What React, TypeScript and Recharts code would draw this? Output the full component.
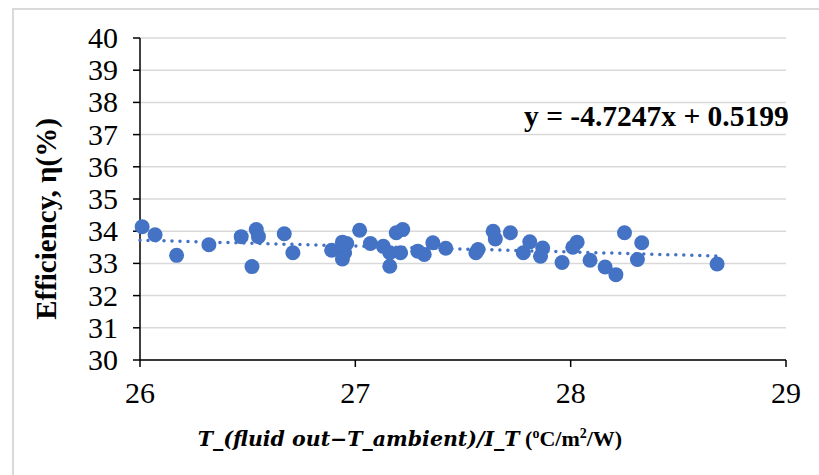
import { ScatterChart, Scatter, XAxis, YAxis, CartesianGrid, Label } from 'recharts';

// measured points: x = T_(fluid out - T_ambient)/I_T, y = efficiency (%)
const xVals = [
  26.01, 26.07, 26.17, 26.32, 26.47, 26.54, 26.55, 26.52, 26.67, 26.71,
  26.89, 26.94, 26.95, 26.94, 26.96, 27.02, 27.07, 27.13, 27.16, 27.16,
  27.19, 27.22, 27.21, 27.29, 27.32, 27.36, 27.42, 27.56, 27.57, 27.64,
  27.65, 27.72, 27.78, 27.81, 27.87, 27.86, 27.96, 28.01, 28.03, 28.09,
  28.16, 28.21, 28.25, 28.31, 28.33, 28.68,
];
const yVals = [
  34.14, 33.89, 33.25, 33.58, 33.83, 34.05, 33.83, 32.9, 33.92, 33.33,
  33.41, 33.66, 33.33, 33.14, 33.62, 34.03, 33.62, 33.53, 33.33, 32.91,
  33.95, 34.05, 33.33, 33.38, 33.28, 33.64, 33.47, 33.33, 33.43, 34.0,
  33.76, 33.95, 33.33, 33.67, 33.48, 33.22, 33.03, 33.5, 33.66, 33.1,
  32.89, 32.65, 33.95, 33.12, 33.64, 32.98,
];
// dotted trend line ends
const trendX = [26.0, 28.68];
const trendY = [33.72, 33.23];

const xTicks = [26, 27, 28, 29];
const yTicks = [30, 31, 32, 33, 34, 35, 36, 37, 38, 39, 40];

const points = xVals.map((x, i) => ({ x, y: yVals[i] }));
const trend = trendX.map((x, i) => ({ x, y: trendY[i] }));

const blue = '#4472C4';
const font = 'Liberation Serif';

const XTick = (p: any) => (
  <text x={p.x} y={p.y} dy={21} textAnchor="middle" fontFamily={font} fontSize={30} fill="#000">
    {p.payload.value}
  </text>
);
const YTick = (p: any) => (
  <text x={p.x} y={p.y} dy={10} textAnchor="end" fontFamily={font} fontSize={30} fill="#000">
    {p.payload.value}
  </text>
);

export default function App() {
  return (
    <div style={{ position: 'absolute', left: 0, top: 0, width: 819, height: 475, background: '#fff', overflow: 'hidden', fontFamily: font }}>
      <div style={{ position: 'absolute', left: 12, top: 8, width: 900, height: 600, borderTop: '2px solid #d9d9d9', borderLeft: '2px solid #d9d9d9' }} />
      <ScatterChart width={819} height={475} margin={{ top: 38, right: 33, left: 0, bottom: 35 }}>
        <CartesianGrid horizontal vertical={false} stroke="#d9d9d9" strokeWidth={1.5} />
        <XAxis
          type="number"
          dataKey="x"
          domain={[26, 29]}
          ticks={xTicks}
          interval={0}
          height={80}
          tickSize={7}
          tickMargin={15}
          axisLine={{ stroke: '#000', strokeWidth: 1.5 }}
          tickLine={{ stroke: '#000', strokeWidth: 1.5 }}
          tick={<XTick />}
        >
          <Label
            content={() => (
              <text x={410} y={446} textAnchor="middle" fontSize={22} fill="#000">
                <tspan fontStyle="italic" fontFamily="DejaVu Serif" fontWeight={600} fontSize={20.5}>
                  T_(fluid out−T_ambient)/I_T
                </tspan>
                <tspan fontFamily={font} fontWeight="bold"> (</tspan>
                <tspan fontFamily={font} fontWeight="bold" fontSize={14} dy={-8}>o</tspan>
                <tspan fontFamily={font} fontWeight="bold" dy={8}>C/m</tspan>
                <tspan fontFamily={font} fontWeight="bold" fontSize={14} dy={-8}>2</tspan>
                <tspan fontFamily={font} fontWeight="bold" dy={8}>/W)</tspan>
              </text>
            )}
          />
        </XAxis>
        <YAxis
          type="number"
          dataKey="y"
          domain={[30, 40]}
          ticks={yTicks}
          interval={0}
          width={140}
          tickSize={7}
          tickMargin={15}
          axisLine={{ stroke: '#000', strokeWidth: 1.5 }}
          tickLine={{ stroke: '#000', strokeWidth: 1.5 }}
          tick={<YTick />}
        >
          <Label
            content={() => (
              <text
                x={46}
                y={219}
                transform="rotate(-90, 46, 219)"
                textAnchor="middle"
                dominantBaseline="central"
                fontFamily={font}
                fontSize={29}
                fontWeight="bold"
                fill="#000"
              >
                Efficiency, η(%)
              </text>
            )}
          />
        </YAxis>
        <Scatter
          data={trend}
          isAnimationActive={false}
          line={{ stroke: blue, strokeWidth: 3.5, strokeDasharray: '0 8', strokeLinecap: 'round' }}
          shape={() => <g />}
        />
        <Scatter data={points} fill={blue} isAnimationActive={false} shape={(p: any) => <circle cx={p.cx} cy={p.cy} r={7.5} fill={blue} />} />
      </ScatterChart>
      <div style={{ position: 'absolute', left: 524, top: 99, fontSize: 29.5, fontWeight: 'bold', fontFamily: font, whiteSpace: 'nowrap', lineHeight: '34px' }}>
        y = -4.7247x + 0.5199
      </div>
    </div>
  );
}
